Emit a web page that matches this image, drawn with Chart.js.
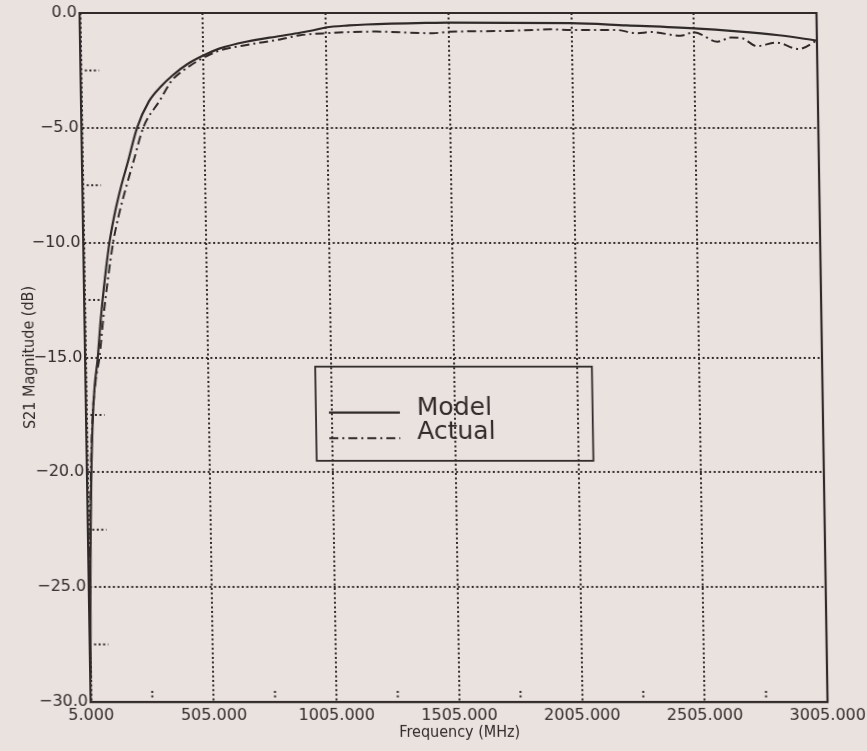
<!DOCTYPE html>
<html><head><meta charset="utf-8">
<script src="https://cdn.jsdelivr.net/npm/chart.js@4.4.0/dist/chart.umd.min.js"></script>
<style>
html,body{margin:0;padding:0;background:#e9e2de;overflow:hidden;}
#wrap{width:867px;height:751px;transform:skewX(0.92deg);transform-origin:0 357px;}
canvas{display:block}
</style></head><body>
<div id="wrap"><canvas id="c" width="867" height="751"></canvas></div>
<script>
// ---- data ----
const seriesNames = ['Model', 'Actual'];
const modelFreq = [5, 10, 15, 20, 30, 40, 55, 70, 90, 110, 130, 160, 190, 230, 280, 330, 380, 440, 505, 570, 680, 820, 900, 950, 1005, 1100, 1170, 1430, 1505, 2005, 2230, 2505, 2680, 2850, 3005];
const modelDb   = [-29, -25, -22.5, -20.5, -17.8, -16.3, -15, -13.3, -11.5, -10, -8.9, -7.6, -6.5, -5, -3.85, -3.2, -2.7, -2.22, -1.85, -1.55, -1.25, -1.0, -0.86, -0.76, -0.63, -0.54, -0.5, -0.43, -0.42, -0.44, -0.54, -0.67, -0.8, -0.97, -1.2];
const actualFreq = [5, 12, 20, 30, 45, 62, 80, 100, 125, 150, 184, 215, 255, 325, 374, 436, 505, 573, 682, 818, 900, 1005, 1210, 1440, 1505, 1745, 1850, 1920, 2005, 2190, 2270, 2330, 2450, 2505, 2600, 2655, 2700, 2760, 2840, 2930, 3005];
const actualDb   = [-27, -23, -19.8, -17.6, -16, -15, -13.3, -11.7, -10, -8.8, -7.5, -6.4, -5, -3.8, -2.95, -2.4, -1.95, -1.63, -1.39, -1.15, -0.97, -0.88, -0.81, -0.88, -0.82, -0.78, -0.74, -0.71, -0.74, -0.74, -0.88, -0.83, -0.99, -0.84, -1.25, -1.07, -1.1, -1.44, -1.29, -1.57, -1.2];
const xTickValues = [5, 505, 1005, 1505, 2005, 2505, 3005];
const yTickValues = [0, -5, -10, -15, -20, -25, -30];
const xMinorTicks = [255, 755, 1255, 1755, 2255, 2755];
const yMinorTicks = [-2.5, -7.5, -12.5, -17.5, -22.5, -27.5];
const xTitle = 'Frequency (MHz)';
const yTitle = 'S21 Magnitude (dB)';

const INK = '#302a2a';
const PAPER = '#e9e2de';

const toPts = (xs, ys) => xs.map((x, i) => ({x: x, y: ys[i]}));

const decor = {
  id: 'decor',
  beforeDraw(chart) {
    const ctx = chart.ctx;
    ctx.save();
    ctx.fillStyle = PAPER;
    ctx.fillRect(0, 0, chart.width, chart.height);
    ctx.restore();
  },
  afterDatasetsDraw(chart, args, opts) {
    const ctx = chart.ctx, a = chart.chartArea;
    const xs = chart.scales.x, ys = chart.scales.y;
    ctx.save();
    // frame top & right
    ctx.strokeStyle = INK; ctx.lineWidth = 2.2;
    ctx.beginPath();
    ctx.moveTo(a.left, a.top); ctx.lineTo(a.right, a.top); ctx.lineTo(a.right, a.bottom);
    ctx.stroke();
    // minor ticks
    ctx.lineWidth = 2; ctx.setLineDash([2, 2.5]);
    yMinorTicks.forEach(v => {
      const y = ys.getPixelForValue(v);
      ctx.beginPath(); ctx.moveTo(a.left + 4, y); ctx.lineTo(a.left + 18, y); ctx.stroke();
    });
    xMinorTicks.forEach(v => {
      const x = xs.getPixelForValue(v);
      ctx.beginPath(); ctx.moveTo(x, a.bottom - 11); ctx.lineTo(x, a.bottom - 3); ctx.stroke();
    });
    ctx.setLineDash([]);
    // legend box
    const L = opts.box;
    const bx0 = xs.getPixelForValue(L.x0), bx1 = xs.getPixelForValue(L.x1);
    const by0 = ys.getPixelForValue(L.y0), by1 = ys.getPixelForValue(L.y1);
    ctx.lineWidth = 1.8; ctx.strokeStyle = INK;
    ctx.strokeRect(bx0, by0, bx1 - bx0, by1 - by0);
    const ds = chart.data.datasets;
    const rows = [by0 + 46, by0 + 71.6];
    ds.forEach((d, i) => {
      ctx.lineWidth = d.borderWidth;
      ctx.setLineDash(d.borderDash || []);
      ctx.beginPath(); ctx.moveTo(bx0 + 13, rows[i]); ctx.lineTo(bx0 + 84, rows[i]); ctx.stroke();
      ctx.setLineDash([]);
      ctx.fillStyle = INK;
      ctx.font = '25px "DejaVu Sans"';
      ctx.textBaseline = 'alphabetic';
      ctx.fillText(d.label, bx0 + 101, i === 0 ? by0 + 48.5 : by0 + 72);
    });
    ctx.restore();
  }
};

const fmtX = v => v.toFixed(3);
const fmtY = v => (v < 0 ? '\u2212' : '') + Math.abs(v).toFixed(1);
const titleFont = {family: '"DejaVu Sans Condensed", "Liberation Sans Narrow", "DejaVu Sans"', size: 16};

new Chart(document.getElementById('c'), {
  type: 'line',
  data: {
    datasets: [
      {label: seriesNames[0], data: toPts(modelFreq, modelDb), borderColor: INK, borderWidth: 2.2, pointRadius: 0, fill: false, cubicInterpolationMode: 'monotone'},
      {label: seriesNames[1], data: toPts(actualFreq, actualDb), borderColor: INK, borderWidth: 2, borderDash: [9, 4, 2, 4], pointRadius: 0, fill: false, cubicInterpolationMode: 'monotone'}
    ]
  },
  options: {
    responsive: false,
    devicePixelRatio: 1,
    animation: false,
    layout: {padding: {top: 13, right: 45, left: 0, bottom: 0}},
    plugins: {
      legend: {display: false},
      tooltip: {enabled: false},
      decor: {box: {x0: 940, x1: 2067, y0: -15.4, y1: -19.5}}
    },
    scales: {
      x: {
        type: 'linear', min: 5, max: 3005,
        afterBuildTicks: s => { s.ticks = xTickValues.map(v => ({value: v})); },
        afterFit: s => { s.height = 49; },
        ticks: {callback: v => fmtX(v), color: INK, font: {family: 'DejaVu Sans', size: 16}, padding: 4, maxRotation: 0, autoSkip: false},
        grid: {color: INK, lineWidth: 2, drawTicks: false},
        border: {display: true, color: INK, width: 2.2, dash: [2, 2.6]},
        title: {display: true, text: xTitle, color: INK, font: titleFont, padding: {top: 0, bottom: 9}}
      },
      y: {
        type: 'linear', min: -30, max: 0,
        afterBuildTicks: s => { s.ticks = yTickValues.map(v => ({value: v})); },
        afterFit: s => { s.width = 85.5; },
        ticks: {callback: v => fmtY(v), color: INK, font: {family: 'DejaVu Sans', size: 16}, padding: 3, autoSkip: false},
        grid: {color: INK, lineWidth: 2, drawTicks: false},
        border: {display: true, color: INK, width: 2.2, dash: [2, 2.6]},
        title: {display: true, text: yTitle, color: INK, font: titleFont, padding: {top: 20, bottom: 0}}
      }
    }
  },
  plugins: [decor]
});
</script>
</body></html>
